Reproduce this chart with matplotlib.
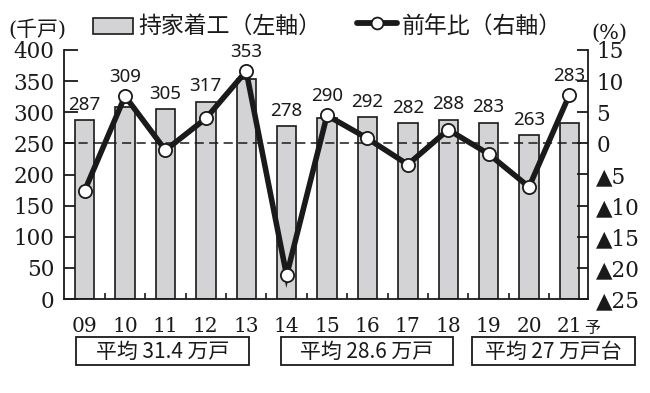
import matplotlib
matplotlib.use("Agg")
import matplotlib.pyplot as plt
from matplotlib.patches import Rectangle
from matplotlib.transforms import blended_transform_factory
import numpy as np

# ---- data ----
years = ['09', '10', '11', '12', '13', '14', '15', '16', '17', '18', '19', '20', '21']
starts = [287, 309, 305, 317, 353, 278, 290, 292, 282, 288, 283, 263, 283]   # 千戸
yoy = [-7.6, 7.6, -1.1, 4.0, 11.6, -21.2, 4.5, 0.8, -3.4, 2.2, -1.7, -7.0, 7.8]  # %
left_ticks = [0, 50, 100, 150, 200, 250, 300, 350, 400]
right_ticks = [-25, -20, -15, -10, -5, 0, 5, 10, 15]
avg_labels = ['平均 31.4 万戸', '平均 28.6 万戸', '平均 27 万戸台']
legend_bar = '持家着工（左軸）'
legend_line = '前年比（右軸）'

SERIF = ['DejaVu Serif', 'DejaVu Sans']
CJK = ['Noto Sans CJK JP', 'DejaVu Sans']
plt.rcParams['font.family'] = SERIF

BAR_C = '#d3d3d6'
INK = '#1a1a1a'

fig = plt.figure(figsize=(6.5, 3.93), dpi=100)
W, H = 650, 393
ax = fig.add_axes([64 / W, (H - 299) / H, 524 / W, 249 / H])
x = np.arange(len(years))

ax.bar(x, starts, width=0.48, color=BAR_C, edgecolor=INK, linewidth=1.2, zorder=2)
ax.axhline(250, ls=(0, (6, 3.5)), color=INK, lw=1.1, zorder=3)
ax.set_xlim(-0.51, 12.46)
ax.set_ylim(0, 400)

ax2 = ax.twinx()
ax2.set_ylim(-25, 15)
ax2.plot(x, yoy, color=INK, lw=4.0, marker='o', ms=9.5, mfc='white', mec=INK,
         mew=1.3, zorder=4, solid_joinstyle='miter')

for a in (ax, ax2):
    a.spines['top'].set_visible(False)
    for s in a.spines.values():
        s.set_linewidth(1.3)
        s.set_color(INK)
ax.spines['right'].set_visible(False)
ax2.spines['left'].set_visible(False)
ax2.spines['bottom'].set_visible(False)

ax.set_yticks(left_ticks)
ax.set_yticklabels([str(v) for v in left_ticks])
ax.tick_params(axis='y', direction='in', length=10, width=1.3, labelsize=15.5,
               pad=7, colors=INK)
ax2.set_yticks(right_ticks)
ax2.set_yticklabels([('▲' + str(abs(v))) if v < 0 else str(v) for v in right_ticks],
                    family=SERIF)
ax2.tick_params(axis='y', direction='in', length=8, width=1.3, labelsize=15.5,
                pad=6, colors=INK)

ax.set_xticks(x)
ax.set_xticklabels(years)
ax.set_xticks(x[:-1] + 0.5, minor=True)
ax.tick_params(axis='x', which='major', length=0, labelsize=14.5, pad=13, colors=INK)
ax.tick_params(axis='x', which='minor', direction='in', length=4, width=1.2, colors=INK)

btr = blended_transform_factory(ax.transData, ax.transAxes)
ax.text(x[-1] + 0.55, -0.118, '予', transform=btr, ha='center', va='center',
        fontsize=11.5, family=CJK, color=INK)

# data labels above bars / markers
for i, (v, p) in enumerate(zip(starts, yoy)):
    pv = 250 + 10 * p
    if pv > v:
        y, off = pv, 10
    else:
        y, off = v, 7.5
    ax.annotate(str(v), (i, y), xytext=(0, off), textcoords='offset points',
                ha='center', va='baseline', fontsize=13.5, family=['Noto Sans'],
                color=INK, zorder=5)

# overlay in pixel coordinates for legend / boxes
ov = fig.add_axes([0, 0, 1, 1], zorder=-1)
ov.set_xlim(0, W)
ov.set_ylim(H, 0)
ov.axis('off')

ov.add_patch(Rectangle((93, 18), 40, 16, fc=BAR_C, ec=INK, lw=1.2))
ov.text(138, 26, legend_bar, fontsize=16.5, family=CJK, va='center', ha='left', color=INK)
ov.plot([357, 397], [23, 23], color=INK, lw=4.2, solid_capstyle='round')
ov.plot([377], [23], marker='o', ms=8.5, mfc='white', mec=INK, mew=1.3)
ov.text(402, 26, legend_line, fontsize=16.5, family=CJK, va='center', ha='left', color=INK)
ov.text(8, 29, '(千戸)', fontsize=15, family=['DejaVu Serif', 'Noto Sans CJK JP'],
        va='center', ha='left', color=INK)
ov.text(591, 33, '(%)', fontsize=15, family=SERIF, va='center', ha='left', color=INK)

boxes = [(76, 173), (281, 172), (472, 163)]
for (bx, bw), lab in zip(boxes, avg_labels):
    ov.add_patch(Rectangle((bx, 337), bw, 28, fc='white', ec=INK, lw=1.3))
    ov.text(bx + bw / 2, 351.5, lab, fontsize=15, family=CJK, ha='center', va='center',
            color=INK)

fig.savefig('out.png', dpi=100)
